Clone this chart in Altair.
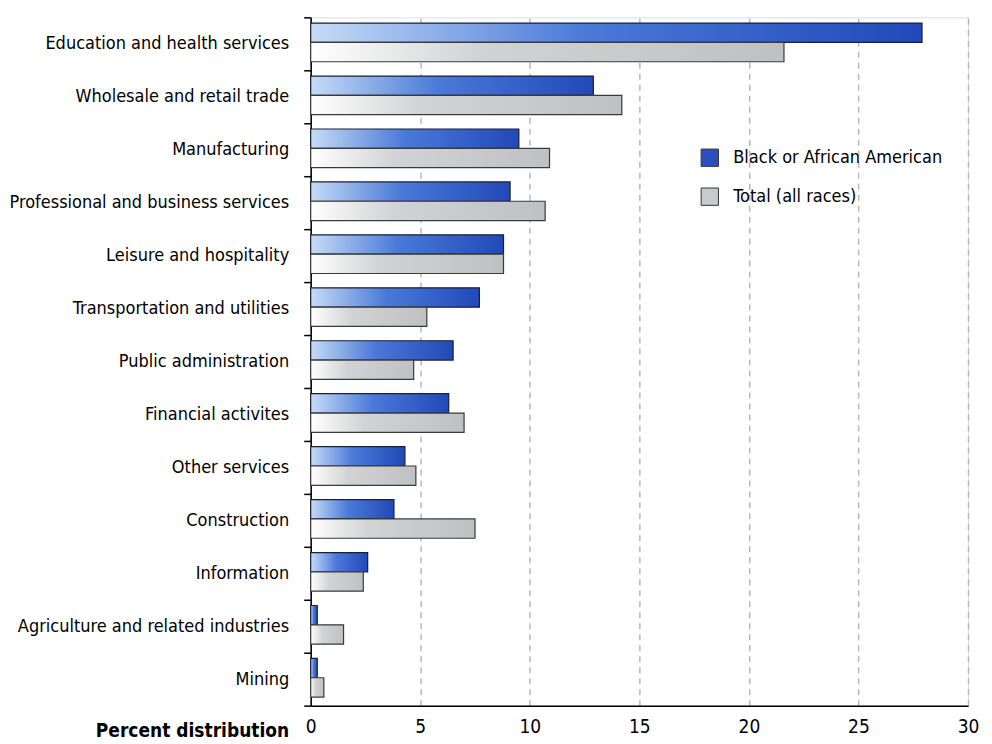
import altair as alt
import pandas as pd

categories = [
    "Education and health services",
    "Wholesale and retail trade",
    "Manufacturing",
    "Professional and business services",
    "Leisure and hospitality",
    "Transportation and utilities",
    "Public administration",
    "Financial activites",
    "Other services",
    "Construction",
    "Information",
    "Agriculture and related industries",
    "Mining",
]
black_values = [27.9, 12.9, 9.5, 9.1, 8.8, 7.7, 6.5, 6.3, 4.3, 3.8, 2.6, 0.3, 0.3]
total_values = [21.6, 14.2, 10.9, 10.7, 8.8, 5.3, 4.7, 7.0, 4.8, 7.5, 2.4, 1.5, 0.6]
series_names = ["Black or African American", "Total (all races)"]
x_ticks = [0, 5, 10, 15, 20, 25, 30]

rows = []
for c, b, t in zip(categories, black_values, total_values):
    rows.append({"industry": c, "series": series_names[0], "value": b})
    rows.append({"industry": c, "series": series_names[1], "value": t})
df = pd.DataFrame(rows)

FONT = "Liberation Sans Narrow, DejaVu Sans Condensed, Roboto, sans-serif"

y_enc = alt.Y(
    "industry:N",
    sort=categories,
    scale=alt.Scale(paddingInner=0, paddingOuter=0),
    axis=alt.Axis(
        title=None,
        tickBand="extent",
        domainColor="black",
        domainWidth=1.5,
        tickColor="black",
        tickSize=7,
        tickWidth=1.5,
        labelPadding=15,
        labelFontSize=18,
        labelColor="black",
        labelFont=FONT,
        labelLimit=400,
        grid=False,
    ),
)
x_enc = alt.X(
    "value:Q",
    scale=alt.Scale(domain=[0, 30], nice=False),
    axis=alt.Axis(
        values=x_ticks,
        title="Percent distribution",
        titleFont=FONT,
        titleFontSize=19,
        titleFontWeight="bold",
        titleColor="black",
        titleAlign="right",
        titleBaseline="alphabetic",
        titleX=-22,
        titleY=31,
        titleAngle=0,
        ticks=False,
        domainColor="black",
        domainWidth=1.5,
        labelFont=FONT,
        labelFontSize=19,
        labelColor="black",
        labelPadding=12,
        labelFlush=False,
        grid=True,
        gridDash=[6, 5],
        gridColor="#b8b8b8",
        gridWidth=1.5,
    ),
)
yoff = alt.YOffset(
    "series:N",
    sort=series_names,
    scale=alt.Scale(domain=series_names, paddingInner=0, paddingOuter=0.37, align=0.4),
)

blue_grad = alt.Gradient(
    gradient="linear",
    stops=[
        alt.GradientStop(color="#c6dcf6", offset=0),
        alt.GradientStop(color="#4a7ad8", offset=0.45),
        alt.GradientStop(color="#2249b8", offset=1),
    ],
    x1=0, x2=1, y1=0, y2=0,
)
gray_grad = alt.Gradient(
    gradient="linear",
    stops=[
        alt.GradientStop(color="#ffffff", offset=0),
        alt.GradientStop(color="#d2d3d4", offset=0.35),
        alt.GradientStop(color="#bfc0c1", offset=1),
    ],
    x1=0, x2=1, y1=0, y2=0,
)

base = alt.Chart(df).encode(y=y_enc, x=x_enc, yOffset=yoff)

blue = base.transform_filter(alt.datum.series == series_names[0]).mark_bar(
    fill=blue_grad, stroke="#1a1f3a", strokeWidth=1.2
)
gray = base.transform_filter(alt.datum.series == series_names[1]).mark_bar(
    fill=gray_grad, stroke="#3a3a3a", strokeWidth=1.2
)
legend_layer = base.mark_square(opacity=0, size=1).encode(
    color=alt.Color(
        "series:N",
        sort=series_names,
        scale=alt.Scale(domain=series_names, range=["#2b4fbf", "#c9cacb"]),
        legend=alt.Legend(
            title=None,
            orient="none",
            legendX=390,
            legendY=131,
            symbolType="square",
            symbolSize=300,
            symbolOpacity=1,
            symbolStrokeColor="#333333",
            symbolStrokeWidth=1,
            labelFont=FONT,
            labelFontSize=18,
            labelColor="black",
            labelOffset=14,
            labelLimit=400,
            rowPadding=16,
        ),
    )
)

chart = (
    alt.layer(blue, gray, legend_layer)
    .properties(width=658, height=689, padding={"left": 0, "top": 0, "right": 5, "bottom": 0})
    .configure_view(stroke=None)
    .configure(background="white")
)

chart.save("out.html", embed_options={"renderer": "svg", "actions": False})
